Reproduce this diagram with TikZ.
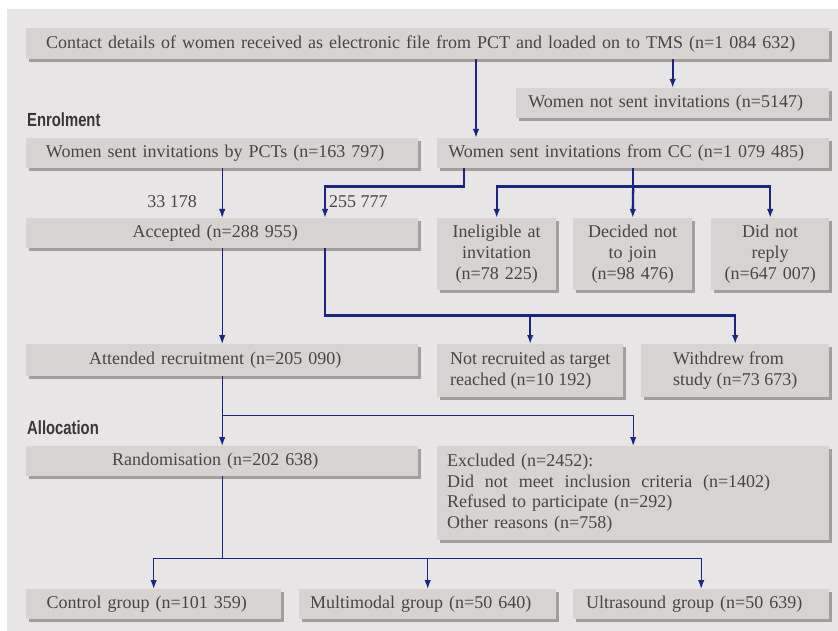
\documentclass[tikz,border=0pt]{standalone}
\usepackage{fontspec}
\setmainfont{Liberation Serif}
\newfontfamily\headfont[FakeStretch=0.78]{Liberation Sans}
\usetikzlibrary{arrows.meta, shadows, positioning}
\definecolor{bggray}{HTML}{E7E5E6}
\definecolor{boxgray}{HTML}{D7D3D3}
\definecolor{shadegray}{HTML}{A39D9B}
\definecolor{inkgray}{HTML}{4A4545}
\definecolor{flowblue}{HTML}{1B2680}
\tikzset{box/.style = {fill = boxgray, text = inkgray, inner sep = 0pt, anchor = north west, align = center,
                       font = \fontsize{18}{20.8}\selectfont,
                       drop shadow = {shadow xshift = 3pt, shadow yshift = -3pt, fill = shadegray, opacity = 1}}}
\tikzset{flow/.style = {draw = flowblue, line width = 1.4pt, -{Latex[length = 9pt, width = 6.5pt]}}}
\tikzset{flowthick/.style = {flow, line width = 2.3pt}}
\tikzset{stage/.style = {anchor = west, inner sep = 0pt, text = inkgray!80!black,
                         font = \headfont\bfseries\fontsize{19}{22}\selectfont}}
\tikzset{count/.style = {text = inkgray, inner sep = 0pt, font = \fontsize{18}{21}\selectfont}}

\begin{document}
\begin{tikzpicture}[x = 1pt, y = -1pt]
    \useasboundingbox (0, 0) rectangle (838, 631);
    \fill [bggray] (7, 9) rectangle (838, 631);

    % enrolment
    \node [box, text width = 803pt, minimum height = 31pt] (contact) at (26, 28)
        {Contact details of women received as electronic file from PCT and loaded on to TMS (n=1 084 632)\hspace*{14pt}};
    \node [box, text width = 313pt, minimum height = 30pt] (notsent) at (516, 88) {Women not sent invitations (n=5147)\hspace*{14pt}};
    \node [stage] (enrol) at (27, 120) {Enrolment};
    \node [box, text width = 392pt, minimum height = 30pt] (pcts) at (26, 138) {Women sent invitations by PCTs (n=163 797)\hspace*{14pt}};
    \node [box, text width = 392pt, minimum height = 30pt] (cc) at (437, 138) {Women sent invitations from CC (n=1 079 485)\hspace*{14pt}};
    \node [count] (pctcount) at (172, 202) {33 178};
    \node [count, anchor = west] (cccount) at (329, 202) {255 777};
    \node [box, text width = 392pt, minimum height = 30pt] (accepted) at (26, 218) {Accepted (n=288 955)\hspace*{14pt}};
    \node [box, text width = 119pt, minimum height = 72pt] (inelig) at (437, 218) {Ineligible at\\invitation\\(n=78 225)};
    \node [box, text width = 119pt, minimum height = 72pt] (decided) at (573, 218) {Decided not\\to join\\(n=98 476)};
    \node [box, text width = 118pt, minimum height = 72pt] (reply) at (711, 218) {Did not\\reply\\(n=647 007)};
    \node [box, text width = 392pt, minimum height = 32pt] (attended) at (26, 344) {Attended recruitment (n=205 090)\hspace*{14pt}};
    \node [box, align = left, minimum width = 186pt, minimum height = 53pt] (notrec) at (437, 344)
        {Not recruited as target\\reached (n=10 192)};
    \node [box, align = left, minimum width = 188pt, minimum height = 53pt] (withdrew) at (641, 344)
        {Withdrew from\\study (n=73 673)};

    % allocation
    \node [stage] (alloc) at (27, 428) {Allocation};
    \node [box, text width = 392pt, minimum height = 30pt] (randomisation) at (26, 446) {Randomisation (n=202 638)\hspace*{14pt}};
    \node [box, align = left, inner xsep = 10pt, text width = 372pt, minimum height = 94pt] (excluded) at (437, 446)
        {Excluded (n=2452):\\\makebox[323pt]{Did\hfill not\hfill meet\hfill inclusion\hfill criteria\hfill (n=1402)}\\Refused to participate (n=292)\\Other reasons (n=758)};
    \node [box, text width = 255pt, minimum height = 30pt] (control) at (26, 589) {Control group (n=101 359)\hspace*{14pt}};
    \node [box, text width = 257pt, minimum height = 30pt] (multimodal) at (299, 589) {Multimodal group (n=50 640)\hspace*{14pt}};
    \node [box, text width = 256pt, minimum height = 30pt] (ultrasound) at (573, 589) {Ultrasound group (n=50 639)\hspace*{14pt}};

    \coordinate (ccin) at ([xshift = 39pt]cc.north west);
    \coordinate (ccout) at ([xshift = 27pt]cc.south west);
    \coordinate (accin) at ([xshift = 299pt]accepted.north west);

    \draw [flowthick] (contact.south -| ccin) -- (ccin);
    \draw [flowthick] (contact.south -| notsent.north) -- (notsent.north);
    \draw [flow] (pcts.south) -- (accepted.north);
    \draw [flowthick] (ccout) -- ++(0, 18) -| (accin);
    \draw [draw = flowblue, line width = 2.3pt] (cc.south) -- ++(0, 18) coordinate (split1);
    \draw [flowthick] (split1) -| (inelig.north);
    \draw [flowthick] (split1) -| (reply.north);
    \draw [flowthick] (split1) -- (decided.north);
    \draw [flow] (accepted.south) -- (attended.north);
    \draw [flowthick] (accepted.south -| accin) -- ++(0, 67) coordinate (split2) -| (withdrew.north);
    \draw [flowthick] (split2 -| notrec.north) -- (notrec.north);
    \draw [flow] (attended.south) -- (randomisation.north);
    \draw [flow] (attended.south) ++(0, 39) coordinate (split3) -| (excluded.north);
    \draw [draw = flowblue, line width = 1.4pt] (randomisation.south) -- ++(0, 82) coordinate (split4);
    \draw [flow] (split4) -| (control.north);
    \draw [flow] (split4) -| (ultrasound.north);
    \draw [flow] (split4 -| multimodal.north) -- (multimodal.north);
\end{tikzpicture}
\end{document}
